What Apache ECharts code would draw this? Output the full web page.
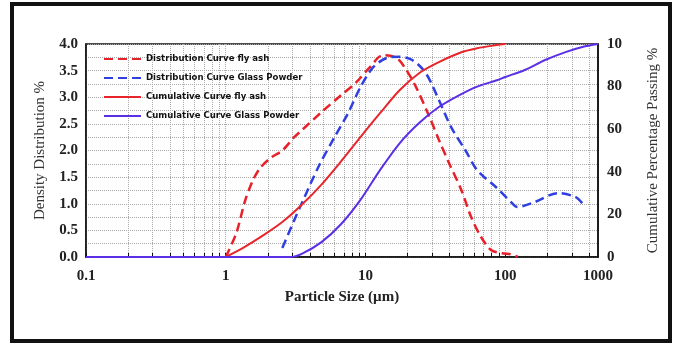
<!DOCTYPE html>
<html lang="en">
<head>
    <meta charset="UTF-8">
    <title>Particle size distribution</title>
    <style>
        html, body { margin: 0; padding: 0; background: #fff; }
        #container { width: 676px; height: 344px; }
    </style>
</head>
<body>
<div id="container"></div>
<script src="https://cdn.jsdelivr.net/npm/echarts@6/dist/echarts.min.js"></script>
<script>
    // x = particle size (um), y = %
    var distFlyAsh = [[1,0],[1.19,0.45],[1.38,1.07],[1.57,1.45],[1.76,1.67],[2.09,1.86],[2.54,2.0],[3.09,2.25],[3.5,2.38],[4.84,2.72],[6.7,3.04],[8.5,3.27],[10.8,3.57],[13.3,3.79],[16.7,3.74],[19.6,3.51],[23,3.19],[28.7,2.63],[33.5,2.2],[39.5,1.77],[48.5,1.26],[57,0.75],[67,0.38],[79,0.13],[95,0.07],[110,0.05],[123,0]];
    var distGlass = [[2.54,0.17],[3.09,0.69],[3.5,1.01],[4.6,1.69],[6.0,2.25],[7.5,2.7],[9.2,3.19],[11.4,3.57],[14.3,3.74],[17.6,3.76],[21.6,3.7],[26.9,3.46],[33.5,2.95],[41,2.44],[52,2.0],[63,1.63],[86,1.31],[112,1.01],[122,0.94],[162,1.03],[238,1.2],[316,1.13],[356,1.01]];
    var cumFlyAsh = [[1,0],[1.34,4.4],[1.84,10],[2.54,16.4],[3.5,24.5],[4.84,34],[6.7,45],[9.2,56.3],[12.7,67.5],[17.6,78.4],[24.3,86.4],[33.5,91.5],[47,95.8],[63,98],[87,99.5],[100,100]];
    var cumGlass = [[0.1,0],[2.9,0],[3.5,1.5],[4.84,7],[6.7,15.5],[9.2,26.8],[12.7,40.8],[17.6,53.5],[24.3,63],[33.5,70.4],[47,76],[63,80],[87,83],[100,84.5],[138,87.8],[193,92.5],[270,96.2],[356,98.6],[461,100]];

    var seriesNames = ['Distribution Curve fly ash', 'Distribution Curve Glass Powder', 'Cumulative Curve fly ash', 'Cumulative Curve Glass Powder'];
    var xLabelVals = [0.1, 1, 10, 100, 461];
    var xLabels = ['0.1', '1', '10', '100', '1000'];
    var rightLabels = ['0', '20', '40', '60', '80', '10'];

    // log grid lines at 1..9 of every decade
    var xGrid = [];
    [0.1, 1, 10, 100].forEach(function (d) {
        for (var k = 1; k <= 9; k++) {
            if (d * k <= 461) xGrid.push(+(d * k).toFixed(4));
        }
    });

    var serif = '"Liberation Serif", "Times New Roman", serif';

    var myChart = echarts.init(document.getElementById('container'));
    var option = {
        backgroundColor: '#fff',
        animation: false,
        graphic: [{
            type: 'rect',
            shape: { x: 12, y: 4, width: 658, height: 337 },
            style: { fill: 'none', stroke: '#111', lineWidth: 4 }
        }],
        grid: {
            left: 86, right: 78, top: 44, bottom: 87,
            show: true, borderColor: '#111', borderWidth: 1.5
        },
        legend: {
            orient: 'vertical',
            left: 98, top: 49,
            itemWidth: 37, itemHeight: 10, itemGap: 9,
            itemStyle: { color: 'transparent', borderColor: 'transparent', borderWidth: 0 },
            textStyle: {
                fontFamily: '"DejaVu Sans Condensed", "Liberation Sans Narrow", "Liberation Sans", sans-serif',
                fontWeight: 'bold', fontSize: 9.5, color: '#111'
            },
            data: seriesNames
        },
        xAxis: {
            type: 'log',
            logBase: 10,
            min: 0.1, max: 461,
            name: 'Particle Size (\u00b5m)',
            nameLocation: 'middle',
            nameGap: 33,
            nameTextStyle: { fontFamily: serif, fontWeight: 'bold', fontSize: 15, color: '#222' },
            axisLine: { lineStyle: { color: '#111', width: 1.5 } },
            axisTick: { inside: true, length: 4, customValues: xGrid, lineStyle: { color: '#111' } },
            splitLine: { show: true, customValues: xGrid, lineStyle: { type: 'dotted', color: '#aaa' } },
            axisLabel: {
                customValues: xLabelVals,
                margin: 12,
                fontFamily: serif, fontWeight: 'bold', fontSize: 15, color: '#222',
                formatter: function (v) {
                    var best = 0;
                    for (var i = 0; i < xLabelVals.length; i++) {
                        if (Math.abs(Math.log(v / xLabelVals[i])) < Math.abs(Math.log(v / xLabelVals[best]))) best = i;
                    }
                    return xLabels[best];
                }
            }
        },
        yAxis: [{
            type: 'value',
            min: 0, max: 4, interval: 0.5,
            name: 'Density Distribution %',
            nameLocation: 'middle',
            nameGap: 38,
            nameTextStyle: { fontFamily: serif, fontSize: 15, color: '#333' },
            axisLine: { show: true, lineStyle: { color: '#111', width: 1.5 } },
            axisTick: { show: false },
            minorTick: { show: false, splitNumber: 2 },
            splitLine: { lineStyle: { type: 'dotted', color: '#aaa' } },
            minorSplitLine: { show: true, lineStyle: { type: 'dotted', color: '#aaa' } },
            axisLabel: {
                margin: 8,
                fontFamily: serif, fontWeight: 'bold', fontSize: 15, color: '#222',
                formatter: function (v) { return v.toFixed(1); }
            }
        }, {
            type: 'value',
            position: 'right',
            min: 0, max: 100, interval: 20,
            name: 'Cumulative Percentage Passing %',
            nameLocation: 'middle',
            nameGap: 48,
            nameTextStyle: { fontFamily: serif, fontSize: 15, color: '#333' },
            axisLine: { show: true, lineStyle: { color: '#111', width: 1.5 } },
            axisTick: { show: false },
            splitLine: { show: false },
            axisLabel: {
                margin: 9,
                fontFamily: serif, fontWeight: 'bold', fontSize: 15, color: '#222',
                formatter: function (v) { return rightLabels[Math.round(v / 20)]; }
            }
        }],
        series: [{
            name: seriesNames[0],
            type: 'line',
            data: distFlyAsh,
            yAxisIndex: 0,
            smooth: 0.3,
            symbol: 'none',
            lineStyle: { color: '#e8202a', width: 2.5, type: [9, 5] },
            itemStyle: { color: '#e8202a' }
        }, {
            name: seriesNames[1],
            type: 'line',
            data: distGlass,
            yAxisIndex: 0,
            smooth: 0.3,
            symbol: 'none',
            lineStyle: { color: '#2f3fe0', width: 2.5, type: [9, 5] },
            itemStyle: { color: '#2f3fe0' }
        }, {
            name: seriesNames[2],
            type: 'line',
            data: cumFlyAsh,
            yAxisIndex: 1,
            smooth: 0.3,
            symbol: 'none',
            lineStyle: { color: '#e8252a', width: 2 },
            itemStyle: { color: '#e8252a' }
        }, {
            name: seriesNames[3],
            type: 'line',
            data: cumGlass,
            yAxisIndex: 1,
            smooth: 0.3,
            symbol: 'none',
            lineStyle: { color: '#5b2fe6', width: 2 },
            itemStyle: { color: '#5b2fe6' }
        }]
    };

    if (option && typeof option === "object") {
        myChart.setOption(option, true);
    }
</script>
</body>
</html>
